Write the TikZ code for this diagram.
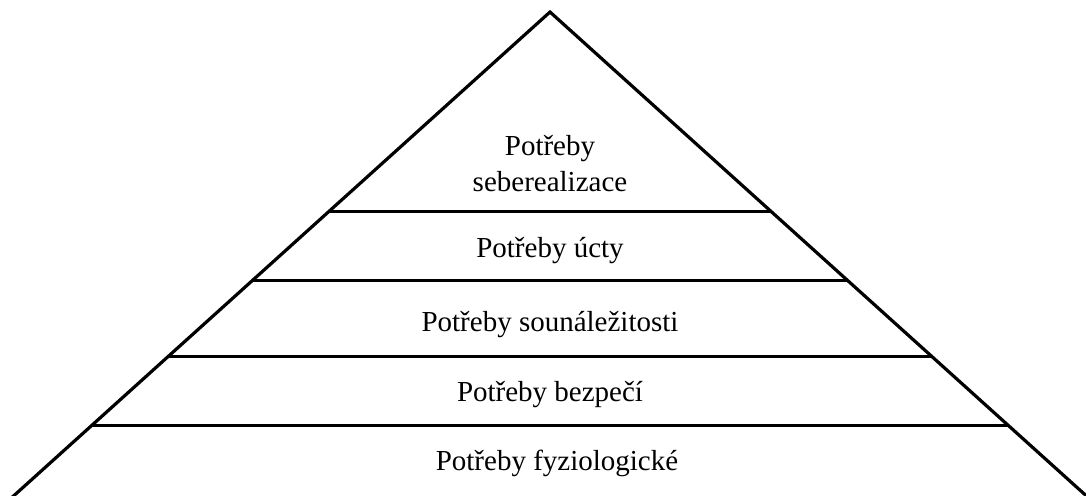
\documentclass[tikz,border=0pt]{standalone}
\usepackage{fontspec}
\setmainfont{Liberation Serif}
\usetikzlibrary{positioning}

\begin{document}
\begin{tikzpicture}[
  x=1pt, y=-1pt,
  edge/.style  = {line width=3.2pt, line join=miter},
  level/.style = {line width=3pt},
  lbl/.style   = {anchor=base, align=center, inner sep=0pt,
                  font=\fontsize{29}{36}\selectfont},
]
\useasboundingbox (0,0) rectangle (1086,495);
\clip (0,0) rectangle (1086,495);

% pyramid
\coordinate (apex) at (550,12);
\coordinate (bl)   at (-2,510);
\coordinate (br)   at (1102,510);
\draw[edge] (bl) -- (apex) -- (br);

% levels
\coordinate (l1) at (330,211);  \coordinate (r1) at (770,211);
\coordinate (l2) at (253,280);  \coordinate (r2) at (847,280);
\coordinate (l3) at (169,356);  \coordinate (r3) at (931,356);
\coordinate (l4) at (93,425);   \coordinate (r4) at (1008,425);
\draw[level] (l1) -- (r1);
\draw[level] (l2) -- (r2);
\draw[level] (l3) -- (r3);
\draw[level] (l4) -- (r4);

% labels
\node[lbl] (self)  at (550,191) {Potřeby\\seberealizace};
\node[lbl] (esteem) at (550,257) {Potřeby úcty};
\node[lbl] (love)  at (550,331) {Potřeby sounáležitosti};
\node[lbl] (safe)  at (550,401) {Potřeby bezpečí};
\node[lbl] (phys)  at (557,470) {Potřeby fyziologické};

\end{tikzpicture}
\end{document}
